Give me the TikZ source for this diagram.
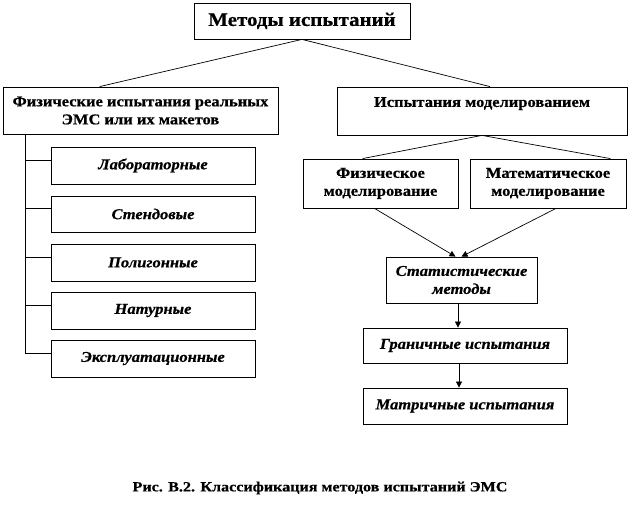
\documentclass[tikz,border=0pt]{standalone}
\usepackage{fontspec}
\setmainfont{Liberation Serif}
\newfontfamily\widefont[FakeStretch=1.1,FakeBold=0.6]{Liberation Serif}
\newfontfamily\capfont[FakeStretch=1.15,FakeBold=0.6]{Liberation Serif}
\usetikzlibrary{arrows.meta}
\begin{document}
\begin{tikzpicture}[x=1pt,y=-1pt,
  box/.style={draw, line width=0.8pt, inner sep=0pt, align=center},
  btxt/.style={font=\widefont\fontsize{15}{18}\selectfont\bfseries},
  itxt/.style={font=\widefont\fontsize{15}{18}\selectfont\bfseries\itshape},
  con/.style={line width=0.7pt},
  arr/.style={line width=0.7pt, -{Triangle[length=6pt,width=6pt]}}]
\useasboundingbox (0,0) rectangle (642,510);
\node[box, minimum width=216pt, minimum height=36pt, font=\widefont\fontsize{19}{22}\selectfont\bfseries] (top) at (302,21) {Методы испытаний};
\node[box, btxt, minimum width=275pt, minimum height=47pt] (left) at (140.5,110.5) {Физические испытания реальных\\ЭМС или их макетов};
\node[box, btxt, minimum width=290pt, minimum height=48pt] (right) at (482,111) {Испытания моделированием\\\mbox{}};
\node[box, itxt, minimum width=204pt, minimum height=37pt] (b1) at (153,165.5) {Лабораторные};
\node[box, itxt, minimum width=204pt, minimum height=36pt] (b2) at (153,214) {Стендовые};
\node[box, itxt, minimum width=204pt, minimum height=37pt] (b3) at (153,262.5) {Полигонные};
\node[box, itxt, minimum width=204pt, minimum height=37pt] (b4) at (153,310.5) {Натурные};
\node[box, itxt, minimum width=204pt, minimum height=37pt] (b5) at (153,358.5) {Эксплуатационные};
\node[box, btxt, minimum width=155pt, minimum height=49pt] (phys) at (380.5,183.5) {Физическое\\моделирование};
\node[box, btxt, minimum width=156pt, minimum height=49pt] (math) at (548,183.5) {Математическое\\моделирование};
\node[box, itxt, minimum width=151pt, minimum height=46pt] (stat) at (461.5,280) {Статистические\\методы};
\node[box, itxt, minimum width=204pt, minimum height=35pt] (gran) at (465,345.5) {Граничные испытания};
\node[box, itxt, minimum width=204pt, minimum height=36pt] (matr) at (465,406) {Матричные испытания};
\node[font=\capfont\fontsize{14}{16}\selectfont\bfseries] (cap) at (320,488) {Рис. В.2. Классификация методов испытаний ЭМС};
% connectors
\draw[con] (top.south) -- ([xshift=97pt]left.north west);
\draw[con] (top.south) -- ([xshift=8pt]right.north);
\draw[con] (right.south) -- ([xshift=60pt]phys.north west);
\draw[con] (right.south) -- ([xshift=-16pt]math.north east);
\draw[arr] ([xshift=-6pt]phys.south) -- ([xshift=-6pt]stat.north);
\draw[arr] ([xshift=8pt]math.south) -- ([xshift=0pt]stat.north);
\draw[arr] ([xshift=-3.5pt]stat.south) -- ([xshift=-3.5pt]stat.south |- gran.north);
\draw[arr] ([xshift=-6pt]gran.south) -- ([xshift=-6pt]matr.north);
\draw[con] ([xshift=23pt]left.south west) |- ([yshift=5.5pt]b5.west);
\foreach \b in {b1,b2,b3,b4}{\draw[con] ([yshift=5.5pt]\b.west) -- ++(-25,0);}
\end{tikzpicture}
\end{document}
